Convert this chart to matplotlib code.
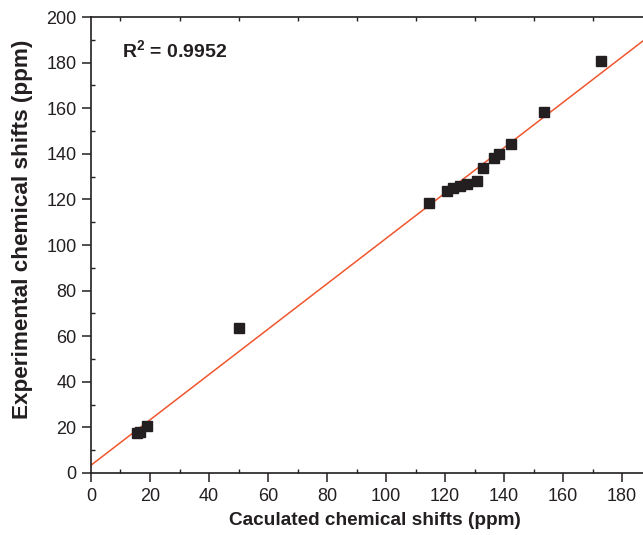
import numpy as np
import matplotlib
matplotlib.use("Agg")
import matplotlib.pyplot as plt
from matplotlib.ticker import MultipleLocator

plt.rcParams['font.family'] = ['Liberation Sans', 'DejaVu Sans']
plt.rcParams['mathtext.fontset'] = 'custom'
plt.rcParams['mathtext.rm'] = 'Liberation Sans'
plt.rcParams['mathtext.bf'] = 'Liberation Sans:bold'

# calculated vs experimental shifts (ppm)
calc_shift = [15.5, 16.5, 19.0, 50.2, 114.6, 120.7, 122.7, 125.0, 127.4,
              130.8, 132.9, 136.6, 138.3, 142.4, 153.6, 172.9]
exp_shift = [17.6, 18.0, 20.5, 63.6, 118.4, 123.7, 125.0, 126.0, 126.8,
             128.1, 133.8, 138.2, 139.9, 144.3, 158.3, 180.7]

# linear fit shown in the original
fit_slope = 0.995
fit_intercept = 3.4
r2_text = r'$\mathbf{R^2}$ = 0.9952'

fig = plt.figure(figsize=(6.43, 5.35), dpi=100)
ax = fig.add_axes([0.1415, 0.1159, 0.872, 0.8523])

xs = np.array([0, 190])
ax.plot(xs, fit_slope * xs + fit_intercept, color='#f0562e', lw=1.1, zorder=2)
ax.plot(calc_shift, exp_shift, 's', color='#231f20', markersize=7.6, zorder=3)

ax.set_xlim(0, 190)
ax.set_ylim(0, 200)
ax.xaxis.set_major_locator(MultipleLocator(20))
ax.xaxis.set_minor_locator(MultipleLocator(10))
ax.yaxis.set_major_locator(MultipleLocator(20))
ax.yaxis.set_minor_locator(MultipleLocator(10))
ax.tick_params(which='major', direction='out', length=6.5, width=1.1,
               labelsize=13, colors='#231f20', pad=4)
ax.tick_params(which='minor', direction='in', length=3, width=1, top=True,
               colors='#231f20')
ax.tick_params(axis='x', which='major', top=False)
for s in ax.spines.values():
    s.set_linewidth(1.2)
    s.set_color('#231f20')

ax.set_xlabel('Caculated chemical shifts (ppm)', fontsize=13.7, fontweight='bold',
              color='#231f20')
ax.set_ylabel('Experimental chemical shifts (ppm)', fontsize=16.2, fontweight='bold',
              color='#231f20')
ax.xaxis.set_label_coords(0.506, -0.085)
ax.yaxis.set_label_coords(-0.104, 0.535)
ax.text(10.5, 185.5, r2_text, fontsize=14, fontweight='bold', va='center',
        color='#231f20')

fig.savefig('out.png', dpi=100)
